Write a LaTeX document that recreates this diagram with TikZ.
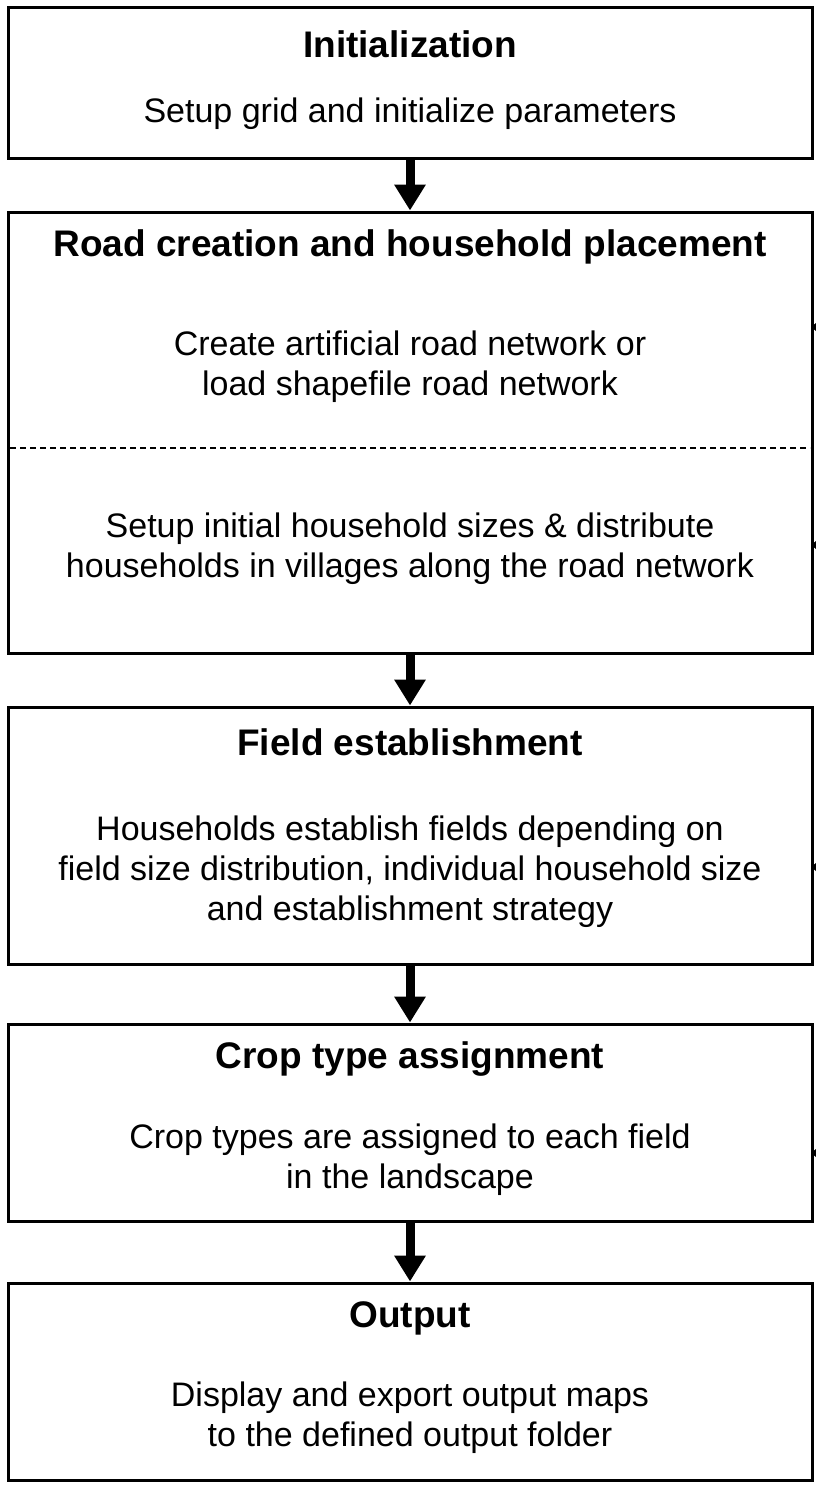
\documentclass[tikz,border=0pt]{standalone}
\usepackage{fontspec}
\setmainfont{Liberation Sans}
\usetikzlibrary{arrows.meta}
\begin{document}
\begin{tikzpicture}[x=1pt,y=-1pt,
  stagebox/.style={draw=black,line width=3pt,rectangle,inner sep=0pt},
  ttl/.style={font=\fontsize{37}{44}\selectfont\bfseries,inner sep=0pt,anchor=center},
  txt/.style={font=\fontsize{34}{40}\selectfont,inner sep=0pt,anchor=center,align=center},
  bigarrow/.style={line width=9pt,-{Triangle[width=30pt,length=26pt]}},
  fbtip/.style={fill=black}]
\useasboundingbox (0,0) rectangle (816,1485);
\fill[white] (0,0) rectangle (816,1485);
% boxes
\node[stagebox,minimum width=804pt,minimum height=150pt] (b1) at (410,83) {};
\node[stagebox,minimum width=804pt,minimum height=441pt] (b2) at (410,432.5) {};
\node[stagebox,minimum width=804pt,minimum height=257pt] (b3) at (410,835.5) {};
\node[stagebox,minimum width=804pt,minimum height=197pt] (b4) at (410,1122.5) {};
\node[stagebox,minimum width=804pt,minimum height=197pt] (b5) at (410,1381.5) {};
% texts
\node[ttl] (t1) at (410,44) {Initialization};
\node[txt] (s1) at (410,114) {Setup grid and initialize parameters};
\node[ttl] (t2) at (410,247) {Road creation and household placement};
\node[txt] (s2a) at (410,367) {Create artificial road network or\\load shapefile road network};
\coordinate (dl) at (10,448);
\coordinate (dr) at (810,448);
\draw[line width=1.3pt,dash pattern=on 6pt off 4pt] (dl) -- (dr);
\node[txt] (s2b) at (410,549) {Setup initial household sizes \& distribute\\households in villages along the road network};
\node[ttl] (t3) at (410,742) {Field establishment};
\node[txt] (s3) at (410,872) {Households establish fields depending on\\field size distribution, individual household size\\and establishment strategy};
\node[ttl] (t4) at (410,1059) {Crop type assignment};
\node[txt] (s4) at (410,1160) {Crop types are assigned to each field\\in the landscape};
\node[ttl] (t5) at (410,1318) {Output};
\node[txt] (s5) at (410,1418) {Display and export output maps\\to the defined output folder};
% arrows
\draw[bigarrow] (b1.south) -- (b2.north);
\draw[bigarrow] (b2.south) -- (b3.north);
\draw[bigarrow] (b3.south) -- (b4.north);
\draw[bigarrow] (b4.south) -- (b5.north);
% cut-off feedback arrow tips at right edge
\foreach \yy in {327,545,867,1153}{
  \fill[fbtip] (816,\yy-4) -- (811,\yy) -- (816,\yy+4) -- cycle;
}
\end{tikzpicture}
\end{document}
